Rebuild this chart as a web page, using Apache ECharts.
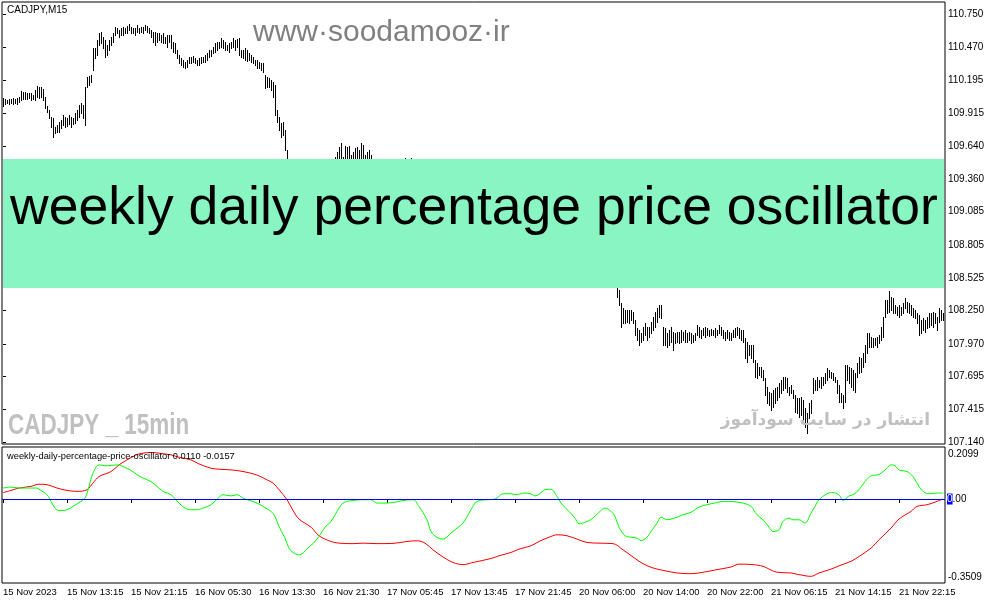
<!DOCTYPE html>
<html lang="en">
<head>
<meta charset="UTF-8">
<title>CADJPY M15 - weekly daily percentage price oscillator</title>
<script src="https://cdn.jsdelivr.net/npm/echarts@6.0.0/dist/echarts.min.js"></script>
<style>
  body { margin: 0; background: #ffffff; }
  #chart { width: 991px; height: 605px; }
</style>
</head>
<body>
<div id="chart"></div>
<script>
// price scale labels (right axis, main window)
var priceTicks = ['107.140', '107.415', '107.695', '107.970', '108.250', '108.525', '108.805',
                  '109.085', '109.360', '109.640', '109.915', '110.195', '110.470', '110.750'];
// time labels, one every 32 bars (8 hours of M15)
var timeLabels = ['15 Nov 2023', '15 Nov 13:15', '15 Nov 21:15', '16 Nov 05:30', '16 Nov 13:30',
                  '16 Nov 21:30', '17 Nov 05:45', '17 Nov 13:45', '17 Nov 21:45', '20 Nov 06:00',
                  '20 Nov 14:00', '20 Nov 22:00', '21 Nov 06:15', '21 Nov 14:15', '21 Nov 22:15'];
var barsPerLabel = 32;
// indicator window scale labels
var oscTicks = [0.2099, 0, -0.3509];

// bar highs / lows, bar 0 .. 470
var highs = [
  110.042, 110.036, 110.028, 110.036, 110.033, 110.042, 110.036, 110.042, 110.056, 110.106,
  110.098, 110.098, 110.084, 110.089, 110.084, 110.070, 110.112, 110.146, 110.134, 110.134,
  110.117, 110.056, 109.977, 109.943, 109.887, 109.873, 109.803, 109.817, 109.845, 109.859,
  109.901, 109.887, 109.873, 109.901, 109.887, 109.873, 109.915, 109.943, 109.985, 109.999,
  109.985, 110.140, 110.224, 110.230, 110.238, 110.463, 110.463, 110.533, 110.590, 110.604,
  110.562, 110.533, 110.491, 110.533, 110.562, 110.590, 110.646, 110.632, 110.618, 110.632,
  110.646, 110.632, 110.652, 110.666, 110.646, 110.632, 110.632, 110.660, 110.632, 110.646,
  110.646, 110.660, 110.652, 110.632, 110.618, 110.604, 110.604, 110.590, 110.590, 110.576,
  110.590, 110.562, 110.576, 110.576, 110.576, 110.519, 110.506, 110.449, 110.407, 110.379,
  110.365, 110.351, 110.365, 110.393, 110.387, 110.399, 110.379, 110.365, 110.379, 110.393,
  110.393, 110.407, 110.421, 110.449, 110.449, 110.477, 110.506, 110.519, 110.519, 110.548,
  110.533, 110.519, 110.491, 110.506, 110.519, 110.548, 110.533, 110.539, 110.548, 110.449,
  110.449, 110.463, 110.449, 110.421, 110.407, 110.393, 110.365, 110.365, 110.351, 110.337,
  110.337, 110.238, 110.224, 110.210, 110.196, 110.182, 110.154, 109.943, 109.887, 109.831,
  109.845, 109.774, 109.606, 109.500, 109.460, 109.420, 109.400, 109.380, 109.360, 109.350,
  109.330, 109.340, 109.360, 109.330, 109.300, 109.320, 109.350, 109.380, 109.400, 109.420,
  109.440, 109.460, 109.480, 109.500, 109.490, 109.510, 109.547, 109.589, 109.631, 109.665,
  109.547, 109.640, 109.631, 109.640, 109.564, 109.589, 109.623, 109.631, 109.606, 109.665,
  109.648, 109.564, 109.589, 109.606, 109.564, 109.500, 109.480, 109.460, 109.450, 109.470,
  109.490, 109.500, 109.480, 109.460, 109.440, 109.460, 109.480, 109.500, 109.490, 109.500,
  109.510, 109.541, 109.510, 109.510, 109.541, 109.490, 109.460, 109.420, 109.380, 109.350,
  109.320, 109.300, 109.270, 109.240, 109.200, 109.170, 109.150, 109.120, 109.100, 109.120,
  109.150, 109.170, 109.140, 109.100, 109.060, 109.020, 108.980, 108.950, 108.970, 109.000,
  109.030, 109.060, 109.080, 109.050, 109.020, 108.990, 108.960, 108.940, 108.920, 108.950,
  108.980, 109.000, 108.970, 108.930, 108.890, 108.860, 108.840, 108.820, 108.850, 108.880,
  108.860, 108.830, 108.800, 108.780, 108.810, 108.840, 108.870, 108.850, 108.820, 108.790,
  108.760, 108.740, 108.720, 108.750, 108.780, 108.800, 108.770, 108.740, 108.710, 108.690,
  108.670, 108.700, 108.730, 108.760, 108.740, 108.710, 108.680, 108.660, 108.640, 108.620,
  108.650, 108.680, 108.700, 108.670, 108.640, 108.620, 108.600, 108.630, 108.660, 108.640,
  108.610, 108.590, 108.620, 108.640, 108.610, 108.580, 108.600, 108.630, 108.610, 108.580,
  108.560, 108.590, 108.610, 108.580, 108.560, 108.550, 108.540, 108.500, 108.425, 108.312,
  108.270, 108.256, 108.256, 108.256, 108.256, 108.242, 108.172, 108.101, 108.087, 108.059,
  108.115, 108.143, 108.115, 108.115, 108.158, 108.200, 108.242, 108.270, 108.298, 108.298,
  108.115, 108.101, 108.059, 108.087, 108.115, 108.073, 108.059, 108.073, 108.073, 108.087,
  108.073, 108.087, 108.059, 108.073, 108.059, 108.045, 108.059, 108.129, 108.115, 108.087,
  108.101, 108.115, 108.101, 108.087, 108.093, 108.087, 108.101, 108.087, 108.129, 108.115,
  108.087, 108.073, 108.087, 108.073, 108.059, 108.087, 108.101, 108.115, 108.101, 108.087,
  108.087, 108.017, 107.989, 107.961, 107.961, 107.961, 107.834, 107.806, 107.778, 107.778,
  107.750, 107.680, 107.609, 107.567, 107.553, 107.581, 107.595, 107.609, 107.637, 107.665,
  107.694, 107.694, 107.680, 107.609, 107.623, 107.581, 107.539, 107.511, 107.511, 107.525,
  107.497, 107.426, 107.384, 107.469, 107.497, 107.680, 107.665, 107.694, 107.665, 107.694,
  107.694, 107.722, 107.764, 107.750, 107.736, 107.722, 107.694, 107.665, 107.623, 107.553,
  107.539, 107.792, 107.792, 107.778, 107.764, 107.750, 107.722, 107.806, 107.862, 107.848,
  107.890, 107.961, 108.059, 108.059, 108.031, 108.017, 108.017, 108.031, 108.045, 108.115,
  108.200, 108.340, 108.340, 108.416, 108.368, 108.354, 108.298, 108.284, 108.298, 108.284,
  108.312, 108.354, 108.326, 108.312, 108.298, 108.270, 108.256, 108.228, 108.214, 108.172,
  108.186, 108.172, 108.200, 108.228, 108.228, 108.242, 108.228, 108.200, 108.270, 108.256, 108.228
];
var lows = [
  109.977, 109.994, 109.999, 109.994, 109.999, 109.994, 109.999, 109.994, 110.013, 110.028,
  110.033, 110.036, 110.036, 110.042, 110.028, 110.033, 110.028, 110.056, 110.042, 110.050,
  110.028, 109.957, 109.929, 109.873, 109.803, 109.718, 109.746, 109.760, 109.760, 109.788,
  109.817, 109.803, 109.808, 109.825, 109.803, 109.825, 109.831, 109.859, 109.887, 109.915,
  109.873, 109.817, 110.140, 110.154, 110.182, 110.281, 110.379, 110.407, 110.491, 110.506,
  110.463, 110.393, 110.407, 110.449, 110.491, 110.519, 110.576, 110.590, 110.562, 110.576,
  110.576, 110.590, 110.595, 110.618, 110.590, 110.590, 110.576, 110.604, 110.590, 110.604,
  110.595, 110.618, 110.604, 110.590, 110.562, 110.519, 110.491, 110.519, 110.533, 110.519,
  110.506, 110.506, 110.477, 110.519, 110.463, 110.435, 110.427, 110.379, 110.337, 110.323,
  110.309, 110.295, 110.309, 110.337, 110.342, 110.351, 110.337, 110.323, 110.323, 110.337,
  110.351, 110.351, 110.365, 110.393, 110.399, 110.421, 110.435, 110.449, 110.463, 110.477,
  110.463, 110.449, 110.449, 110.435, 110.463, 110.477, 110.449, 110.477, 110.407, 110.393,
  110.379, 110.365, 110.359, 110.365, 110.351, 110.337, 110.323, 110.295, 110.295, 110.281,
  110.266, 110.126, 110.140, 110.134, 110.112, 110.056, 109.901, 109.845, 109.774, 109.718,
  109.732, 109.606, 109.465, 109.400, 109.370, 109.330, 109.300, 109.280, 109.270, 109.250,
  109.230, 109.250, 109.270, 109.240, 109.220, 109.240, 109.270, 109.300, 109.320, 109.340,
  109.360, 109.380, 109.400, 109.420, 109.410, 109.430, 109.460, 109.490, 109.510, 109.500,
  109.470, 109.500, 109.510, 109.500, 109.480, 109.490, 109.500, 109.510, 109.490, 109.500,
  109.510, 109.470, 109.490, 109.500, 109.460, 109.420, 109.400, 109.380, 109.370, 109.390,
  109.410, 109.420, 109.400, 109.380, 109.360, 109.380, 109.400, 109.420, 109.410, 109.430,
  109.440, 109.500, 109.440, 109.450, 109.500, 109.410, 109.370, 109.330, 109.290, 109.260,
  109.230, 109.210, 109.180, 109.150, 109.110, 109.080, 109.060, 109.030, 109.010, 109.030,
  109.060, 109.080, 109.050, 109.010, 108.970, 108.930, 108.890, 108.860, 108.880, 108.910,
  108.940, 108.970, 108.990, 108.960, 108.930, 108.900, 108.870, 108.850, 108.830, 108.860,
  108.890, 108.910, 108.880, 108.840, 108.800, 108.770, 108.750, 108.730, 108.760, 108.790,
  108.770, 108.740, 108.710, 108.690, 108.720, 108.750, 108.780, 108.760, 108.730, 108.700,
  108.670, 108.650, 108.630, 108.660, 108.690, 108.710, 108.680, 108.650, 108.620, 108.600,
  108.580, 108.610, 108.640, 108.670, 108.650, 108.620, 108.590, 108.570, 108.550, 108.530,
  108.560, 108.590, 108.610, 108.580, 108.550, 108.530, 108.510, 108.540, 108.570, 108.550,
  108.520, 108.500, 108.530, 108.550, 108.520, 108.490, 108.510, 108.540, 108.520, 108.490,
  108.470, 108.500, 108.520, 108.490, 108.470, 108.460, 108.450, 108.368, 108.298, 108.115,
  108.143, 108.143, 108.158, 108.143, 108.172, 108.143, 108.045, 108.003, 107.961, 107.989,
  108.003, 108.045, 108.003, 108.031, 108.059, 108.087, 108.115, 108.158, 108.200, 108.186,
  107.961, 107.961, 107.947, 107.961, 107.989, 107.919, 107.975, 107.989, 107.975, 107.989,
  108.003, 107.989, 107.989, 108.003, 107.975, 107.989, 108.003, 108.045, 108.031, 108.017,
  108.045, 108.031, 108.045, 108.037, 108.045, 108.045, 108.031, 108.045, 108.059, 108.045,
  108.017, 108.003, 108.017, 108.003, 108.003, 108.031, 108.031, 108.045, 108.017, 108.003,
  107.989, 107.848, 107.820, 107.876, 107.848, 107.820, 107.694, 107.680, 107.708, 107.694,
  107.665, 107.539, 107.469, 107.455, 107.412, 107.441, 107.469, 107.497, 107.525, 107.553,
  107.581, 107.595, 107.567, 107.539, 107.553, 107.511, 107.398, 107.384, 107.356, 107.370,
  107.328, 107.272, 107.216, 107.342, 107.384, 107.553, 107.581, 107.581, 107.609, 107.595,
  107.623, 107.637, 107.665, 107.694, 107.680, 107.665, 107.651, 107.553, 107.483, 107.483,
  107.426, 107.483, 107.665, 107.637, 107.609, 107.581, 107.567, 107.694, 107.722, 107.736,
  107.778, 107.820, 107.890, 107.947, 107.947, 107.947, 107.961, 107.947, 107.975, 108.003,
  108.031, 108.200, 108.228, 108.242, 108.256, 108.228, 108.228, 108.214, 108.200, 108.214,
  108.228, 108.270, 108.242, 108.228, 108.214, 108.200, 108.186, 108.143, 108.045, 108.059,
  108.087, 108.073, 108.101, 108.115, 108.129, 108.115, 108.143, 108.087, 108.158, 108.172, 108.172
];

// oscillator buffers read at [bar index, value]
var oscGreen = [
  [0, 0.046], [4, 0.050], [8, 0.046], [17, 0.046], [18, 0.041], [22, 0.018], [24, -0.010], [26, -0.038],
  [28, -0.049], [32, -0.045], [35, -0.031], [38, -0.015], [41, 0.004], [43, 0.053], [45, 0.108], [48, 0.143],
  [52, 0.139], [55, 0.142], [58, 0.143], [60, 0.136], [64, 0.120], [66, 0.108], [69, 0.092], [74, 0.073],
  [77, 0.053], [80, 0.032], [84, 0.018], [88, -0.017], [91, -0.038], [94, -0.045], [97, -0.045], [100, -0.038],
  [104, -0.024], [107, -0.001], [110, 0.018], [114, 0.013], [117, 0.018], [120, 0.004], [124, -0.008], [127, -0.017],
  [130, -0.031], [134, -0.052], [136, -0.073], [138, -0.115], [141, -0.164], [143, -0.206], [145, -0.224], [148, -0.234],
  [150, -0.227], [153, -0.201], [155, -0.187], [158, -0.157], [161, -0.118], [164, -0.094], [167, -0.052], [170, -0.017],
  [175, -0.006], [180, -0.003], [184, -0.003], [187, -0.017], [190, -0.017], [195, -0.015], [200, -0.006], [205, -0.003],
  [208, -0.031], [212, -0.087], [214, -0.136], [217, -0.161], [220, -0.168], [224, -0.143], [227, -0.122], [230, -0.101],
  [234, -0.045], [237, -0.010], [242, -0.003], [245, -0.002], [247, 0.004], [250, 0.022], [254, 0.022], [257, 0.018],
  [260, 0.025], [264, 0.022], [266, 0.013], [268, 0.020], [271, 0.039], [274, 0.041], [277, 0.011], [279, -0.017],
  [283, -0.052], [286, -0.080], [288, -0.104], [292, -0.094], [295, -0.080], [298, -0.056], [301, -0.038], [304, -0.052],
  [306, -0.073], [308, -0.118], [311, -0.154], [314, -0.160], [317, -0.164], [319, -0.174], [322, -0.160], [324, -0.136],
  [327, -0.101], [329, -0.076], [332, -0.087], [334, -0.084], [337, -0.076], [340, -0.066], [344, -0.056], [347, -0.038],
  [350, -0.028], [354, -0.020], [357, -0.015], [360, -0.010], [364, -0.010], [367, -0.013], [370, -0.017], [374, -0.031],
  [377, -0.066], [380, -0.087], [383, -0.118], [385, -0.136], [388, -0.129], [390, -0.094], [393, -0.080], [395, -0.087],
  [398, -0.087], [401, -0.101], [404, -0.059], [406, -0.031], [408, -0.003], [412, 0.022], [415, 0.027], [418, 0.018],
  [420, -0.006], [423, 0.013], [425, 0.018], [428, 0.039], [431, 0.073], [434, 0.097], [437, 0.101], [439, 0.108],
  [442, 0.129], [444, 0.143], [446, 0.140], [448, 0.122], [452, 0.115], [455, 0.094], [458, 0.053], [460, 0.032],
  [463, 0.022], [467, 0.025], [470, 0.025]
];
var oscRed = [
  [0, 0.027], [4, 0.036], [8, 0.046], [14, 0.053], [18, 0.062], [22, 0.060], [27, 0.046], [32, 0.036],
  [37, 0.032], [42, 0.039], [45, 0.067], [48, 0.094], [54, 0.115], [58, 0.143], [62, 0.164], [65, 0.178],
  [68, 0.189], [74, 0.195], [78, 0.192], [84, 0.185], [88, 0.175], [94, 0.164], [98, 0.147], [104, 0.129],
  [108, 0.125], [114, 0.122], [118, 0.118], [124, 0.108], [128, 0.097], [132, 0.080], [135, 0.067], [138, 0.039],
  [142, -0.003], [145, -0.048], [148, -0.084], [154, -0.118], [158, -0.154], [164, -0.178], [168, -0.185], [175, -0.187],
  [180, -0.185], [187, -0.187], [195, -0.186], [202, -0.178], [207, -0.175], [211, -0.185], [215, -0.213], [220, -0.243],
  [225, -0.266], [230, -0.275], [235, -0.266], [240, -0.257], [245, -0.247], [248, -0.238], [254, -0.224], [258, -0.210],
  [264, -0.196], [268, -0.178], [274, -0.157], [277, -0.150], [282, -0.154], [287, -0.168], [292, -0.182], [298, -0.185],
  [305, -0.187], [310, -0.213], [315, -0.243], [320, -0.271], [325, -0.289], [330, -0.299], [337, -0.310], [344, -0.313],
  [350, -0.307], [357, -0.296], [364, -0.285], [368, -0.273], [375, -0.275], [380, -0.282], [387, -0.307], [394, -0.310],
  [398, -0.317], [404, -0.324], [408, -0.310], [414, -0.294], [418, -0.280], [424, -0.261], [428, -0.241], [434, -0.206],
  [438, -0.171], [444, -0.122], [448, -0.084], [454, -0.052], [457, -0.031], [462, -0.024], [467, -0.010], [470, 0.000]
];

var chart = echarts.init(document.getElementById('chart'));

var bars = highs.map(function (h, i) { return [i, h, lows[i]]; });
var timeTickValues = timeLabels.map(function (t, k) { return k * barsPerLabel; });
var priceTickValues = priceTicks.map(Number);

var fontMT = 'Liberation Sans';

function renderBar(params, api) {
  var top = api.coord([api.value(0), api.value(1)]);
  var bottom = api.coord([api.value(0), api.value(2)]);
  var x = Math.round(top[0]) + 0.5;
  return {
    type: 'line',
    shape: { x1: x, y1: Math.round(top[1]), x2: x, y2: Math.round(bottom[1]) + 1 },
    style: { stroke: '#000000', lineWidth: 1 }
  };
}

var lowerAxisBase = {
  type: 'value',
  gridIndex: 1,
  position: 'right',
  min: -0.352,
  max: 0.218,
  axisLine: { show: false },
  axisTick: { show: false },
  splitLine: { show: false }
};

var option = {
  animation: false,
  backgroundColor: '#ffffff',
  grid: [
    { left: 2, top: 2, width: 943, height: 442, show: true, borderColor: '#000000', borderWidth: 1, backgroundColor: 'transparent' },
    { left: 2, top: 447, width: 943, height: 136, show: true, borderColor: '#000000', borderWidth: 1, backgroundColor: 'transparent' }
  ],
  xAxis: [
    { type: 'value', gridIndex: 0, min: -0.5, max: 471, show: false },
    {
      type: 'value', gridIndex: 1, min: -0.5, max: 471,
      axisLine: { show: false },
      splitLine: { show: false },
      axisTick: { show: true, length: 4, customValues: timeTickValues, lineStyle: { color: '#000000' } },
      axisLabel: {
        customValues: timeTickValues,
        formatter: function (v) { return timeLabels[Math.round(v / barsPerLabel)]; },
        align: 'left', margin: 4, color: '#000000', fontFamily: fontMT, fontSize: 9.5
      }
    }
  ],
  yAxis: [
    {
      type: 'value', gridIndex: 0, position: 'right',
      min: 107.126, max: 110.854,
      axisLine: { show: false },
      splitLine: { show: false },
      axisTick: { show: true, length: 3, customValues: priceTickValues, lineStyle: { color: '#000000' } },
      axisLabel: {
        customValues: priceTickValues,
        formatter: function (v) { return v.toFixed(3); },
        margin: 3, color: '#000000', fontFamily: fontMT, fontSize: 10
      }
    },
    Object.assign({}, lowerAxisBase, {
      axisLabel: {
        customValues: [oscTicks[1]],
        formatter: function () { return '{b|0}{n|.00}'; },
        margin: 2,
        rich: {
          b: { backgroundColor: '#0000ff', color: '#ffffff', fontFamily: fontMT, fontSize: 10, padding: [1, 0, 0, 0] },
          n: { color: '#000000', fontFamily: fontMT, fontSize: 10 }
        }
      }
    }),
    Object.assign({}, lowerAxisBase, {
      axisLabel: {
        customValues: [oscTicks[0]],
        formatter: function (v) { return v.toFixed(4); },
        margin: 3, verticalAlign: 'top', color: '#000000', fontFamily: fontMT, fontSize: 10
      }
    }),
    Object.assign({}, lowerAxisBase, {
      axisLabel: {
        customValues: [oscTicks[2]],
        formatter: function (v) { return v.toFixed(4); },
        margin: 3, verticalAlign: 'bottom', color: '#000000', fontFamily: fontMT, fontSize: 10
      }
    })
  ],
  series: [
    {
      name: 'CADJPY', type: 'custom', xAxisIndex: 0, yAxisIndex: 0,
      renderItem: renderBar, data: bars, encode: { x: 0, y: [1, 2] }
    },
    {
      name: 'red', type: 'line', xAxisIndex: 1, yAxisIndex: 1,
      data: oscRed, showSymbol: false, smooth: 0.35,
      lineStyle: { color: '#ff0000', width: 1 }
    },
    {
      name: 'green', type: 'line', xAxisIndex: 1, yAxisIndex: 1,
      data: oscGreen, showSymbol: false, smooth: 0.35,
      lineStyle: { color: '#00ff00', width: 1 },
      markLine: {
        silent: true, symbol: 'none', label: { show: false },
        lineStyle: { color: '#0000ff', width: 1, type: 'solid' },
        data: [{ yAxis: 0 }]
      }
    }
  ],
  graphic: [
    { type: 'rect', z: 100, shape: { x: 3, y: 159, width: 941, height: 129 }, style: { fill: '#89f5c2' } },
    {
      type: 'text', z: 101, x: 474, y: 209,
      style: { text: 'weekly daily percentage price oscillator', fill: '#000000', font: '53.5px "Liberation Sans"', align: 'center', verticalAlign: 'middle' }
    },
    {
      type: 'text', z: 101, x: 253, y: 33,
      style: { text: 'www·soodamooz·ir', fill: '#808080', font: '30px "Liberation Sans"', align: 'left', verticalAlign: 'middle' }
    },
    {
      // heavy condensed watermark: bold face squeezed horizontally
      type: 'text', z: 101, x: 8, y: 426, scaleX: 0.75, originX: 0, originY: 0,
      style: { text: 'CADJPY _ 15min', fill: '#c0c0c0', font: 'bold 30px "Liberation Sans"', align: 'left', verticalAlign: 'middle' }
    },
    {
      type: 'text', z: 101, x: 930, y: 421,
      style: { text: 'انتشار در سایت سودآموز', fill: '#c0c0c0', font: 'bold 17px "DejaVu Sans"', align: 'right', verticalAlign: 'middle' }
    },
    {
      type: 'text', z: 101, x: 7, y: 10,
      style: { text: 'CADJPY,M15', fill: '#000000', font: '10px "Liberation Sans"', align: 'left', verticalAlign: 'middle' }
    },
    {
      type: 'text', z: 101, x: 7, y: 456,
      style: { text: 'weekly-daily-percentage-price-oscillator 0.0110 -0.0157', fill: '#000000', font: '9.3px "Liberation Sans"', align: 'left', verticalAlign: 'middle' }
    }
  ]
};

chart.setOption(option);
</script>
</body>
</html>
